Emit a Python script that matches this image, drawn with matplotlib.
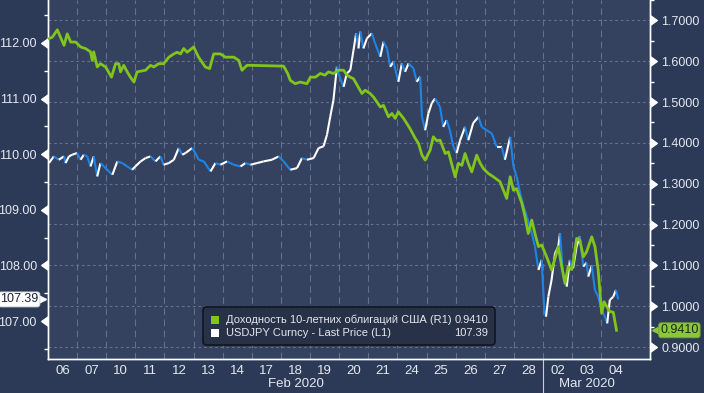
import numpy as np
import matplotlib.pyplot as plt
import matplotlib.lines as mlines
import matplotlib.transforms as mtransforms
from matplotlib.collections import LineCollection
from matplotlib.patches import FancyBboxPatch, Rectangle

plt.rcParams['font.family'] = ['Liberation Sans', 'DejaVu Sans']

# подписи дней (торговые дни) и месяцев
day_labels = ['06', '07', '10', '11', '12', '13', '14', '17', '18', '19',
              '20', '21', '24', '25', '26', '27', '28', '02', '03', '04']
month_labels = ['Feb 2020', 'Mar 2020']
month_pos = [8.5, 18.5]
month_break = 17

# время в торговых днях от 06 фев
usdjpy_t = [0.03, 0.20, 0.37, 0.55, 0.60, 0.72, 0.83, 1.00, 1.12, 1.23, 1.35, 1.46, 1.57, 1.69,
            1.80, 1.92, 2.09, 2.21, 2.38, 2.55, 2.72, 2.89, 3.00, 3.18, 3.35, 3.52, 3.69, 3.86,
            3.97, 4.15, 4.32, 4.49, 4.61, 4.72, 4.95, 5.06, 5.17, 5.35, 5.58, 5.75, 5.92, 6.15,
            6.38, 6.61, 6.78, 6.95, 7.18, 7.40, 7.69, 7.92, 8.09, 8.32, 8.55, 8.72, 8.89, 9.12,
            9.29, 9.46, 9.58, 9.69, 9.80, 9.92, 10.03, 10.15, 10.26, 10.38, 10.49, 10.58, 10.66,
            10.72, 10.83, 10.95, 11.12, 11.23, 11.41, 11.52, 11.64, 11.75, 11.86, 12.03, 12.15,
            12.26, 12.38, 12.55, 12.66, 12.78, 12.84, 12.95, 13.06, 13.18, 13.29, 13.46, 13.57,
            13.69, 13.80, 13.92, 14.03, 14.15, 14.32, 14.43, 14.60, 14.78, 14.89, 15.06, 15.24,
            15.41, 15.58, 15.69, 15.87, 15.98, 16.09, 16.21, 16.33, 16.44, 16.61, 16.72, 16.84,
            16.95, 17.04, 17.10, 17.18, 17.29, 17.41, 17.52, 17.58, 17.69, 17.81, 17.92, 18.03,
            18.15, 18.26, 18.38, 18.49, 18.55, 18.67, 18.78, 18.89, 19.01, 19.12, 19.20, 19.29,
            19.41, 19.50, 19.58]
usdjpy = [109.84, 109.96, 109.90, 109.96, 109.84, 109.96, 109.99, 110.02, 109.90, 109.99, 109.96,
          109.78, 109.96, 109.60, 109.84, 109.78, 109.69, 109.63, 109.87, 109.84, 109.78, 109.72,
          109.78, 109.87, 109.93, 109.96, 109.87, 109.96, 109.81, 109.84, 109.90, 110.11, 109.99,
          110.02, 110.11, 110.02, 109.90, 109.87, 109.69, 109.84, 109.81, 109.87, 109.81, 109.78,
          109.84, 109.81, 109.84, 109.87, 109.90, 109.96, 109.87, 109.72, 109.75, 109.93, 109.90,
          109.93, 110.11, 110.14, 110.35, 110.67, 110.97, 111.57, 111.36, 111.21, 111.45, 111.51,
          111.87, 112.17, 111.90, 112.20, 111.90, 112.08, 112.17, 111.99, 111.75, 112.02, 111.90,
          111.57, 111.66, 111.30, 111.63, 111.48, 111.63, 111.54, 111.30, 111.39, 110.67, 110.43,
          110.73, 110.92, 111.00, 110.85, 110.49, 110.61, 110.43, 110.13, 110.02, 110.25, 110.49,
          110.25, 110.56, 110.67, 110.49, 110.43, 110.37, 110.13, 110.13, 109.90, 110.31, 109.78,
          109.60, 109.30, 109.06, 108.88, 108.58, 108.34, 107.92, 108.10, 107.20, 107.08, 107.44,
          107.74, 108.22, 108.34, 108.58, 107.80, 107.62, 108.10, 107.95, 108.34, 108.52, 107.98,
          108.05, 107.80, 108.00, 107.56, 107.44, 107.20, 107.08, 106.96, 107.38, 107.44, 107.56,
          107.39]

yield_t = [0.01, 0.15, 0.32, 0.43, 0.55, 0.66, 0.78, 0.95, 1.12, 1.29, 1.46, 1.52, 1.57, 1.69,
           1.80, 1.98, 2.18, 2.32, 2.43, 2.49, 2.60, 2.72, 2.83, 2.95, 3.06, 3.35, 3.52, 3.63,
           3.80, 3.97, 4.15, 4.32, 4.43, 4.55, 4.66, 4.78, 5.00, 5.17, 5.40, 5.55, 5.69, 5.92,
           6.09, 6.38, 6.55, 6.66, 6.83, 6.95, 8.09, 8.23, 8.32, 8.49, 8.66, 8.89, 9.01, 9.18,
           9.35, 9.51, 9.63, 9.80, 9.98, 10.15, 10.26, 10.38, 10.49, 10.78, 10.89, 11.06, 11.18,
           11.41, 11.52, 11.69, 11.81, 11.92, 12.03, 12.21, 12.43, 12.61, 12.72, 12.84, 12.95,
           13.12, 13.23, 13.35, 13.46, 13.64, 13.75, 13.98, 14.09, 14.21, 14.32, 14.43, 14.55,
           14.72, 14.84, 14.95, 15.12, 15.29, 15.52, 15.75, 15.87, 15.98, 16.09, 16.27, 16.38,
           16.49, 16.61, 16.72, 16.84, 16.95, 17.12, 17.29, 17.41, 17.52, 17.64, 17.75, 17.86,
           17.98, 18.03, 18.15, 18.26, 18.38, 18.49, 18.67, 18.78, 18.89, 19.01, 19.09, 19.18,
           19.29, 19.41, 19.52]
yield10 = [1.655, 1.659, 1.677, 1.659, 1.639, 1.667, 1.647, 1.647, 1.635, 1.631, 1.623, 1.602,
           1.623, 1.586, 1.594, 1.586, 1.561, 1.594, 1.594, 1.574, 1.590, 1.574, 1.561, 1.549,
           1.574, 1.578, 1.590, 1.586, 1.594, 1.594, 1.610, 1.618, 1.622, 1.618, 1.631, 1.622,
           1.635, 1.610, 1.586, 1.582, 1.618, 1.618, 1.610, 1.610, 1.602, 1.578, 1.590, 1.590,
           1.588, 1.570, 1.553, 1.545, 1.549, 1.545, 1.561, 1.561, 1.570, 1.566, 1.574, 1.570,
           1.578, 1.578, 1.566, 1.561, 1.557, 1.521, 1.529, 1.521, 1.512, 1.488, 1.492, 1.464,
           1.472, 1.460, 1.476, 1.460, 1.435, 1.411, 1.399, 1.370, 1.358, 1.382, 1.415, 1.405,
           1.407, 1.374, 1.378, 1.317, 1.350, 1.345, 1.374, 1.350, 1.329, 1.370, 1.350, 1.337,
           1.325, 1.317, 1.305, 1.264, 1.317, 1.284, 1.288, 1.252, 1.219, 1.178, 1.211, 1.178,
           1.146, 1.150, 1.121, 1.089, 1.117, 1.146, 1.097, 1.056, 1.097, 1.090, 1.105, 1.166,
           1.162, 1.121, 1.133, 1.170, 1.146, 1.089, 0.983, 1.011, 1.000, 0.987, 0.985, 0.941]

last_usdjpy = 107.39
last_yield = 0.9410
left_ticks = [107, 108, 109, 110, 111, 112]
right_ticks = [0.9, 1.0, 1.1, 1.2, 1.3, 1.4, 1.5, 1.6, 1.7]
legend_names = ['Доходность 10-летних облигаций США (R1)', 'USDJPY Curncy - Last Price (L1)']

# цвета
bg_out = '#2c3a57'
bg_in = '#35425f'
grid_c = '#62708b'
txt_c = '#e4e8ef'
green = '#80c41c'
blue = '#1e84e8'

fig = plt.figure(figsize=(7.04, 3.93), dpi=100, facecolor=bg_out)
ax = fig.add_axes([48 / 704, 34 / 393, 602 / 704, 359 / 393])
ax.set_facecolor(bg_in)
ax.set_xlim(0, 20.67)
lo, hi = 106.32, 112.77
ax.set_ylim(lo, hi)
ax2 = ax.twinx()
rlo, rhi = 0.8707, 1.749
ax2.set_ylim(rlo, rhi)

# сетка
for i in range(1, len(day_labels)):
    ax.axvline(i, color=grid_c, lw=0.8, ls=(0, (6, 4)), zorder=1)
for v in right_ticks:
    yv = lo + (v - rlo) / (rhi - rlo) * (hi - lo)
    ax.axhline(yv, color=grid_c, lw=0.8, ls=(0, (2.5, 2.5)), zorder=1)

# USDJPY: белый рост, синий спад
pts = np.column_stack([usdjpy_t, usdjpy])
segs = np.stack([pts[:-1], pts[1:]], axis=1)
cols = [blue if usdjpy[k + 1] < usdjpy[k] else 'white' for k in range(len(usdjpy) - 1)]
ax.add_collection(LineCollection(segs, colors=cols, linewidths=1.5, zorder=3))

# доходность
ax2.plot(yield_t, yield10, color=green, lw=2.0, zorder=3, solid_joinstyle='round')

# оси
for a in (ax, ax2):
    a.spines['top'].set_visible(False)
    for s in ['left', 'right', 'bottom']:
        a.spines[s].set_color('white')
        a.spines[s].set_linewidth(1)

ax.set_yticks(left_ticks, ['%.2f' % v for v in left_ticks])
ax.set_yticks(np.arange(106.5, 113, 1.0), minor=True)
ax.tick_params(axis='y', which='major', length=7, colors=txt_c, labelsize=9, pad=1)
ax.tick_params(axis='y', which='minor', length=3, color='white', width=1)
for t in ax.yaxis.get_major_ticks():
    t.tick1line.set_marker(mlines.CARETLEFTBASE)
    t.tick1line.set_markersize(7)
    t.tick1line.set_markerfacecolor('white')
    t.tick1line.set_markeredgecolor('white')

ax2.set_yticks(right_ticks, ['%.4f' % v for v in right_ticks])
ax2.set_yticks(np.array(right_ticks) + 0.05, minor=True)
ax2.tick_params(axis='y', which='major', length=7, colors=txt_c, labelsize=9, pad=1)
ax2.tick_params(axis='y', which='minor', length=3, color='white', width=1)
for t in ax2.yaxis.get_major_ticks():
    t.tick2line.set_marker(mlines.CARETRIGHTBASE)
    t.tick2line.set_markersize(7)
    t.tick2line.set_markerfacecolor('white')
    t.tick2line.set_markeredgecolor('white')

ax.set_xticks(np.arange(len(day_labels)) + 0.5, day_labels)
ax.tick_params(axis='x', length=0, colors=txt_c, labelsize=9.5, pad=4)

tr = mtransforms.blended_transform_factory(ax.transData, ax.transAxes)
for name, pos in zip(month_labels, month_pos):
    ax.text(pos, -0.07, name, transform=tr, ha='center', va='center', color=txt_c, fontsize=9.5)
ax.plot([month_break, month_break], [0, -0.1], transform=tr, color='#c8cdd8', lw=0.8, clip_on=False)

# метки последних значений
trl = mtransforms.blended_transform_factory(ax.transAxes, ax.transData)
ax.text(-0.016, last_usdjpy, '%.2f' % last_usdjpy, transform=trl, ha='right', va='center',
        fontsize=9, color='#1b2438',
        bbox=dict(boxstyle='round,pad=0.12,rounding_size=0.2', fc='white', ec='#d0d0d0', lw=0.6))
ax.plot([-0.011], [last_usdjpy], transform=trl, marker='>', ms=7, color='white', clip_on=False)

trr = mtransforms.blended_transform_factory(ax2.transAxes, ax2.transData)
ax2.text(1.017, last_yield, '%.4f' % last_yield, transform=trr, ha='left', va='center',
         fontsize=9, color='#1a2a08',
         bbox=dict(boxstyle='round,pad=0.12,rounding_size=0.2', fc='#8cc63f', ec='#6ea62a', lw=0.6))
ax2.plot([1.011], [last_yield], transform=trr, marker='<', ms=7, color='#8cc63f', clip_on=False)

# легенда
lx0, ly0, lw_, lh = 0.2575, 0.039, 0.485, 0.106
ax2.add_patch(FancyBboxPatch((lx0, ly0), lw_, lh, transform=ax2.transAxes,
                             boxstyle='round,pad=0,rounding_size=0.006', mutation_aspect=602 / 359,
                             fc='#273148', ec='#11151f', lw=1.2, zorder=6))
rows = [0.1086, 0.0724]
sw_cols = [green, 'white']
vals = ['%.4f' % last_yield, '%.2f' % last_usdjpy]
for ry, c, name, val in zip(rows, sw_cols, legend_names, vals):
    ax2.add_patch(Rectangle((0.2715, ry - 0.0112), 8 / 602, 8 / 359, transform=ax2.transAxes,
                            fc=c, ec='none', zorder=7))
    ax2.text(0.2957, ry, name, transform=ax2.transAxes, ha='left', va='center',
             fontsize=8, color=txt_c, zorder=7)
    ax2.text(0.7309, ry, val, transform=ax2.transAxes, ha='right', va='center',
             fontsize=8, color=txt_c, zorder=7)

fig.savefig('out.png', dpi=100, facecolor=bg_out)
